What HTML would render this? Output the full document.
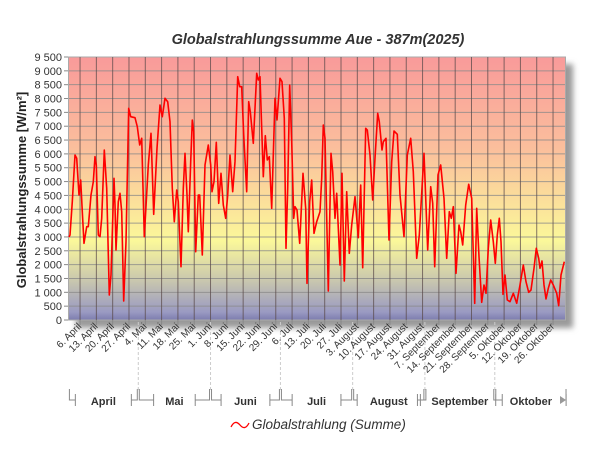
<!DOCTYPE html>
<html><head><meta charset="utf-8"><style>
body{margin:0;background:#fff;width:600px;height:450px;overflow:hidden;font-family:"Liberation Sans",sans-serif}
</style></head><body>
<svg id="s" width="600" height="450" xmlns="http://www.w3.org/2000/svg" font-family="Liberation Sans, sans-serif">
<defs>
<linearGradient id="bg" x1="0" y1="0" x2="0" y2="1">
<stop offset="0" stop-color="#f99a9a"/>
<stop offset="0.35" stop-color="#fbbf9c"/>
<stop offset="0.7" stop-color="#fbf89a"/>
<stop offset="0.85" stop-color="#c9c7ae"/>
<stop offset="0.97" stop-color="#9a9ac2"/>
<stop offset="1" stop-color="#7c7cae"/>
</linearGradient>
<filter id="sh" x="-10%" y="-10%" width="130%" height="130%"><feGaussianBlur stdDeviation="3"/></filter>
</defs>
<rect x="76" y="64" width="497" height="264" fill="#999" filter="url(#sh)"/>
<rect x="68.5" y="57" width="497" height="263" fill="url(#bg)" stroke="#aaa"/>
<g id="grid"></g>
<polyline id="line" fill="none" stroke="#f00" stroke-width="1.6" stroke-linejoin="round"/>
<text x="318" y="44" text-anchor="middle" font-size="14.5" font-weight="bold" font-style="italic" fill="#333">Globalstrahlungssumme Aue - 387m(2025)</text>
<text transform="translate(26,190) rotate(-90)" text-anchor="middle" font-size="13" font-weight="bold" fill="#222">Globalstrahlungssumme [W/m²]</text>
<g id="lab"></g>
<path d="M231,427 q4,-8 9,-2 t9,-2" fill="none" stroke="#f00" stroke-width="1.3"/>
<text x="252" y="429" font-size="13.5" font-style="italic" fill="#333">Globalstrahlung (Summe)</text>
</svg>
<script>
var g=document.getElementById('grid'),lab=document.getElementById('lab'),NS='http://www.w3.org/2000/svg';
function el(p,t,a,txt){var e=document.createElementNS(NS,t);for(var k in a)e.setAttribute(k,a[k]);if(txt)e.textContent=txt;p.appendChild(e);return e;}
var x0=68.4,d=2.33,y0=320,py=263/9500;
for(var v=0;v<=9500;v+=500){var y=y0-v*py;
 if(v>0&&v<9500)el(g,'line',{x1:69,x2:565,y1:y,y2:y,stroke:'#8a8a8a','stroke-width':1,opacity:0.8});
 el(g,'line',{x1:64,x2:68,y1:y,y2:y,stroke:'#888'});
 el(lab,'text',{x:62,y:y+4,'text-anchor':'end','font-size':11,fill:'#333'},v==0?'0':(v>=1000?Math.floor(v/1000)+' '+String(v%1000).padStart(3,'0'):String(v)));}
var wk=['6. April','13. April','20. April','27. April','4. Mai','11. Mai','18. Mai','25. Mai','1. Juni','8. Juni','15. Juni','22. Juni','29. Juni','6. Juli','13. Juli','20. Juli','27. Juli','3. August','10. August','17. August','24. August','31. August','7. September','14. September','21. September','28. September','5. Oktober','12. Oktober','19. Oktober','26. Oktober'];
wk.forEach(function(n,i){var x=x0+(5+7*i)*d;
 el(g,'line',{x1:x,x2:x,y1:57,y2:320,stroke:'#5a4a4a','stroke-width':1,opacity:0.75});
 el(g,'line',{x1:x,x2:x,y1:320,y2:325,stroke:'#888'});
 el(lab,'text',{transform:'translate('+(x+2)+',327) rotate(-45)','text-anchor':'end','font-size':10,fill:'#333'},n);});
var mb=[0,30,61,91,122,153,183,214].map(function(k){return x0+k*d;});
var mn=['April','Mai','Juni','Juli','August','September','Oktober'];
for(var i=0;i<7;i++){var a=mb[i]+1,b=mb[i+1]-1,c=(a+b)/2,w=mn[i].length*3.6+10;
 if(i>0)el(g,'line',{x1:mb[i],x2:mb[i],y1:322,y2:390,stroke:'#ccc','stroke-dasharray':'3,2'});
 el(g,'path',{d:'M'+a+',389 V400 H'+(c-w)+' M'+(c-w)+',394 V406 M'+(c+w)+',394 V406 M'+(c+w)+',400 H'+b+' V389',fill:'none',stroke:'#888'});
 el(lab,'text',{x:c,y:405,'text-anchor':'middle','font-size':11,'font-weight':'bold',fill:'#333'},mn[i]);}
el(g,'path',{d:'M560,396 l6,4 l-6,4z',fill:'#999'});
var A=[[15,540],[22,440],[30,300],[35,310],[42,420],[47,375],[52,470],[57,565],[65,515],[70,515],[78,420],[85,380],[90,305],[94,330],[100,540],[105,545],[110,490],[118,285],[125,400],[133,720],[138,660],[147,370],[150,450],[153,585],[160,440],[165,415],[170,470],[176,738],[183,560],[191,160],[197,185],[210,188],[217,215],[224,270],[230,250],[238,545],[250,330],[258,235],[266,478],[276,280],[285,150],[292,185],[300,130],[308,140],[315,200],[322,400],[328,500],[335,405],[340,440],[348,635],[355,400],[360,295],[366,420],[370,530],[377,320],[382,195],[386,230],[392,590],[400,420],[404,420],[412,600],[420,330],[430,270],[437,330],[441,410],[447,380],[454,262],[461,445],[468,355],[475,450],[482,490],[488,420],[495,300],[503,410],[510,320],[518,65],[524,95],[530,95],[536,240],[545,410],[551,140],[556,170],[565,265],[575,55],[580,75],[585,65],[595,365],[601,242],[607,315],[613,305],[620,460],[630,130],[636,195],[645,70],[651,80],[658,190],[663,580],[668,400],[674,90],[680,260],[686,490],[690,455],[696,465],[704,565],[714,355],[722,460],[726,685],[734,440],[740,375]];
var B=[[12,535],[20,500],[30,470],[35,370],[40,210],[45,250],[55,708],[63,295],[68,350],[75,490],[80,415],[90,630],[96,355],[103,678],[110,410],[118,595],[125,510],[135,425],[145,548],[152,390],[158,638],[167,220],[172,225],[180,300],[188,435],[195,310],[203,175],[208,200],[216,285],[220,260],[228,250],[237,555],[245,320],[252,228],[262,238],[270,420],[282,545],[292,300],[302,250],[310,350],[320,610],[328,540],[342,295],[353,585],[362,395],[368,445],[374,635],[384,360],[392,330],[402,430],[410,610],[418,470],[424,490],[430,455],[438,655],[447,510],[452,530],[458,570],[467,450],[476,388],[485,430],[494,745],[500,460],[507,605],[515,742],[522,690],[528,715],[535,580],[542,495],[550,560],[556,625],[562,540],[568,490],[573,560],[579,718],[585,660],[592,735],[600,740],[610,715],[620,745],[630,690],[640,630],[648,680],[656,712],[663,705],[672,640],[679,580],[686,610],[690,640],[696,618],[702,690],[708,732],[715,700],[722,675],[730,690],[740,715],[746,752],[753,660],[763,620]];
var pts=A.map(function(p){return (65+p[0]/3).toFixed(1)+','+(55+p[1]/3).toFixed(1);}).concat(B.map(function(p){return (310+p[0]/3).toFixed(1)+','+(55+p[1]/3).toFixed(1);}));
pts.unshift('69,237');
document.getElementById('line').setAttribute('points',pts.join(' '));
</script>
</body></html>
